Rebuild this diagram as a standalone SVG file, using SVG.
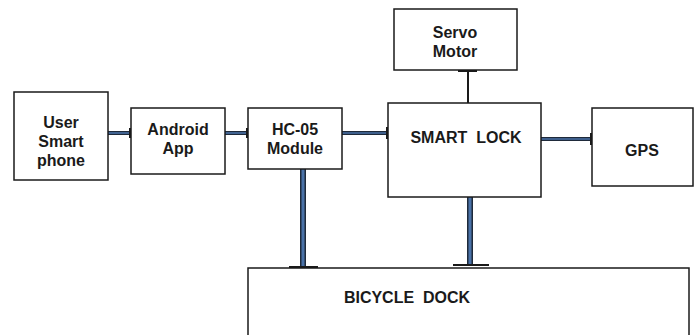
<svg xmlns="http://www.w3.org/2000/svg" width="698" height="335" viewBox="0 0 698 335">
<style>
.box{fill:#fff;stroke:#1a1a1a;stroke-width:1.5}
.t{font-family:"Liberation Sans",Arial,sans-serif;font-weight:bold;font-size:16px;fill:#1a1a1a;text-anchor:middle;white-space:pre}
.co{stroke:#1f2a3a;fill:none}
.ci{stroke:#4a72a8;fill:none}
.tick{stroke:#1a1a1a;stroke-width:2}
</style>
<rect width="698" height="335" fill="#fff"/>
<g id="connectors">
<line class="co" x1="108" y1="133" x2="131" y2="133" stroke-width="4"/>
<line class="ci" x1="108" y1="133" x2="131" y2="133" stroke-width="1.6"/>
<line class="tick" x1="130" y1="128" x2="130" y2="138"/>
<line class="co" x1="225" y1="133" x2="248" y2="133" stroke-width="4"/>
<line class="ci" x1="225" y1="133" x2="248" y2="133" stroke-width="1.6"/>
<line class="tick" x1="247" y1="128" x2="247" y2="138"/>
<line class="co" x1="342" y1="133" x2="388" y2="133" stroke-width="4"/>
<line class="ci" x1="342" y1="133" x2="388" y2="133" stroke-width="1.6"/>
<line class="tick" x1="387" y1="127" x2="387" y2="139"/>
<line class="co" x1="541" y1="139" x2="592" y2="139" stroke-width="4"/>
<line class="ci" x1="541" y1="139" x2="592" y2="139" stroke-width="1.6"/>
<line class="tick" x1="591" y1="133" x2="591" y2="145"/>
<line x1="468" y1="70" x2="468" y2="103" stroke="#1a1a1a" stroke-width="2"/>
<line class="tick" x1="458" y1="71" x2="477" y2="71"/>
<line class="co" x1="303" y1="169" x2="303" y2="267" stroke-width="6"/>
<line class="ci" x1="303" y1="169" x2="303" y2="267" stroke-width="3"/>
<line class="tick" x1="289" y1="267" x2="318" y2="267"/>
<line class="co" x1="470" y1="197" x2="470" y2="265" stroke-width="6"/>
<line class="ci" x1="470" y1="197" x2="470" y2="265" stroke-width="3"/>
<line class="tick" x1="453" y1="265" x2="489" y2="265"/>
</g>
<g id="user-smartphone">
<rect class="box" x="14" y="92" width="94" height="88"/>
<text class="t" x="61" y="128">User</text>
<text class="t" x="61" y="147">Smart</text>
<text class="t" x="61" y="166">phone</text>
</g>
<g id="android-app">
<rect class="box" x="131" y="108" width="94" height="66"/>
<text class="t" x="178" y="135">Android</text>
<text class="t" x="178" y="154">App</text>
</g>
<g id="hc05">
<rect class="box" x="248" y="108" width="94" height="61"/>
<text class="t" x="295" y="135">HC-05</text>
<text class="t" x="295" y="154">Module</text>
</g>
<g id="servo-motor">
<rect class="box" x="394" y="9" width="123" height="61"/>
<text class="t" x="455" y="38">Servo</text>
<text class="t" x="455" y="57">Motor</text>
</g>
<g id="smart-lock">
<rect class="box" x="388" y="103" width="153" height="94"/>
<text class="t" x="466" y="143">SMART  LOCK</text>
</g>
<g id="gps">
<rect class="box" x="592" y="108" width="101" height="78"/>
<text class="t" x="642" y="156">GPS</text>
</g>
<g id="bicycle-dock">
<rect class="box" x="248" y="268" width="441" height="80"/>
<text class="t" x="407" y="303">BICYCLE  DOCK</text>
</g>
</svg>
